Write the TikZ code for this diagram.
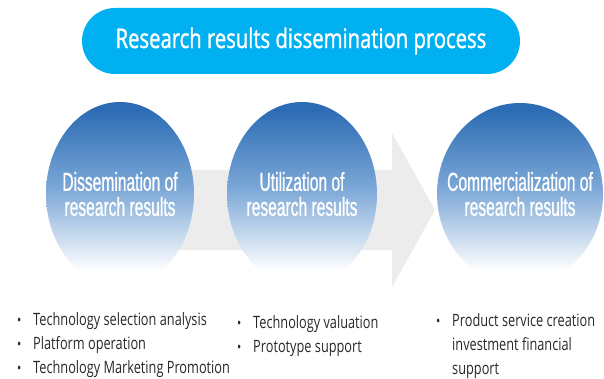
\documentclass[tikz,border=0pt]{standalone}
\usepackage{fontspec}
\setmainfont{Open Sans}
\newfontfamily\headfont[FakeStretch=0.75, FakeBold=1.2]{Open Sans}
\newfontfamily\stagefont[FakeStretch=0.6, FakeBold=0.8]{Liberation Sans}
\newfontfamily\listfont[FakeStretch=0.75]{Open Sans}
\usetikzlibrary{shapes.geometric, arrows}

\definecolor{titlecyan}{RGB}{0,176,240}
\definecolor{stageblue}{RGB}{44,108,180}
\definecolor{stagemid}{RGB}{122,166,214}
\definecolor{arrowgray}{RGB}{236,236,236}
\definecolor{listgray}{RGB}{40,40,40}

\pgfdeclareverticalshading{stagefade}{100bp}{color(0bp)=(white); color(29bp)=(white); color(52bp)=(stagemid); color(73bp)=(stageblue); color(100bp)=(stageblue)}

\newcommand{\listdot}{\makebox[16pt][l]{\fontsize{15}{15}\selectfont\raisebox{-0.5pt}{\textbullet}}}

\tikzstyle{banner} = [rectangle, rounded corners=33pt, minimum width=438pt, minimum height=66pt, fill=titlecyan, text=white, font=\headfont\fontsize{27}{30}\selectfont]
\tikzstyle{stage} = [ellipse, minimum width=148pt, minimum height=184pt, inner sep=0pt, shading=stagefade]
\tikzstyle{stagetext} = [text=white, align=center, font=\stagefont\fontsize{26}{25}\selectfont]
\tikzstyle{bullets} = [anchor=base west, inner sep=0pt, text=listgray, font=\listfont\fontsize{17}{24}\selectfont]

\begin{document}
\begin{tikzpicture}[x=1pt, y=-1pt]
            \useasboundingbox (0,0) rectangle (604,379);

            % big gray arrow behind the three stages
            \fill [arrowgray] (120,170) -- (392,170) -- (392,133) -- (435,210)
                -- (392,287) -- (392,250) -- (120,250) -- cycle;

            \node [banner] at (301,41) (title) {Research results dissemination process};

            \node [stage, label={[stagetext]center:Dissemination of\\research results}] at (120,194) (dissem) {};
            \node [stage, minimum width=150pt, label={[stagetext]center:Utilization of\\research results}] at (302,194) (utiliz) {};
            \node [stage, minimum width=166pt, minimum height=182pt, label={[stagetext]center:Commercialization of\\research results}] at (520,194) (commer) {};

            \node [bullets] at (17,325) (list1) {\begin{tabular}[t]{@{}l@{}}
                \listdot Technology selection analysis\\
                \listdot Platform operation\\
                \listdot Technology Marketing Promotion
                \end{tabular}};
            \node [bullets] at (237,328) (list2) {\begin{tabular}[t]{@{}l@{}}
                \listdot Technology valuation\\
                \listdot Prototype support
                \end{tabular}};
            \node [bullets] at (436,326) (list3) {\begin{tabular}[t]{@{}l@{}}
                \listdot Product service creation\\
                \hspace*{16pt}investment financial\\
                \hspace*{16pt}support
                \end{tabular}};
            \end{tikzpicture}
\end{document}
